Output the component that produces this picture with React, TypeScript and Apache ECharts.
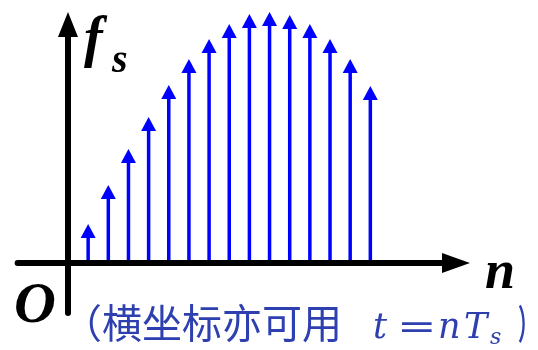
import React, { useEffect, useRef } from "react";
import * as echarts from "echarts";

const nValues = [1, 2, 3, 4, 5, 6, 7, 8, 9, 10, 11, 12, 13, 14, 15];
const fsValues = [39, 78, 114, 146, 178, 204, 224, 239, 249, 251, 248, 239, 224, 204, 177];
const yLabel = "f";
const yLabelSub = "s";
const xLabel = "n";
const originLabel = "O";
const noteCn = "（横坐标亦可用";
const noteMathT = "t";
const noteMathEq = "=";
const noteMathN = "n";
const noteMathTs = "T";
const noteMathSub = "s";
const noteClose = "）";

export default function App() {
  const ref = useRef<HTMLDivElement>(null);
  useEffect(() => {
    if (!ref.current) return;
    const chart = echarts.init(ref.current, null, { renderer: "svg" });
    const serif = "'Liberation Serif', 'Times New Roman', serif";
    const mathSerif = "'DejaVu Serif', serif";
    const cjk = "'Noto Sans CJK SC', sans-serif";
    const noteColor = "#2e40b0";
    const data = nValues.map((n, i) => [n, fsValues[i]]);
    chart.setOption({
      animation: false,
      grid: { left: 17.6, right: 82, top: 24.5, bottom: 37, outerBoundsMode: "none", containLabel: false },
      xAxis: {
        type: "value",
        min: -2.5,
        max: 19.25,
        axisLine: { onZero: true, lineStyle: { color: "#000", width: 6 }, symbol: ["none", "triangle"], symbolSize: [20, 28] },
        axisTick: { show: false },
        axisLabel: { show: false },
        splitLine: { show: false },
      },
      yAxis: {
        type: "value",
        min: -50,
        max: 238.5,
        axisLine: { show: true, onZero: true, lineStyle: { color: "#000", width: 6 }, symbol: ["none", "triangle"], symbolSize: [20, 25] },
        axisTick: { show: false },
        axisLabel: { show: false },
        splitLine: { show: false },
      },
      series: [
        {
          type: "custom",
          data,
          clip: false,
          renderItem: (params: any, api: any) => {
            const n = api.value(0);
            const v = api.value(1);
            const base = api.coord([n, 0]);
            const tip = api.coord([n, v]);
            const headL = 14;
            const headW = 15;
            return {
              type: "group",
              children: [
                {
                  type: "line",
                  shape: { x1: base[0], y1: base[1] - 3, x2: tip[0], y2: tip[1] + headL - 1 },
                  style: { stroke: "#0000ff", lineWidth: 3.5 },
                },
                {
                  type: "polygon",
                  shape: { points: [[tip[0], tip[1]], [tip[0] - headW / 2, tip[1] + headL], [tip[0] + headW / 2, tip[1] + headL]] },
                  style: { fill: "#0000ff" },
                },
              ],
            };
          },
        },
      ],
      graphic: [
        { type: "text", x: 84, y: 37, style: { text: yLabel, font: `italic bold 56px ${serif}`, fill: "#000", verticalAlign: "middle" } },
        { type: "text", x: 112, y: 58, style: { text: yLabelSub, font: `italic bold 40px ${serif}`, fill: "#000", verticalAlign: "middle" } },
        { type: "text", x: 14, y: 302, style: { text: originLabel, font: `italic bold 58px ${serif}`, fill: "#000", verticalAlign: "middle" } },
        { type: "text", x: 485, y: 270, style: { text: xLabel, font: `italic bold 54px ${serif}`, fill: "#000", verticalAlign: "middle" } },
        { type: "text", x: 62, y: 321, style: { text: noteCn, font: `40px ${cjk}`, fill: noteColor, verticalAlign: "middle" } },
        { type: "text", x: 373, y: 326, style: { text: noteMathT, font: `italic 35px ${mathSerif}`, fill: noteColor, verticalAlign: "middle" } },
        { type: "text", x: 397, y: 326, scaleX: 1.35, style: { text: noteMathEq, font: `35px ${mathSerif}`, fill: noteColor, verticalAlign: "middle" } },
        { type: "text", x: 438, y: 326, style: { text: noteMathN, font: `italic 35px ${mathSerif}`, fill: noteColor, verticalAlign: "middle" } },
        { type: "text", x: 464, y: 326, style: { text: noteMathTs, font: `italic 35px ${mathSerif}`, fill: noteColor, verticalAlign: "middle" } },
        { type: "text", x: 490, y: 336.5, style: { text: noteMathSub, font: `italic 22px ${mathSerif}`, fill: noteColor, verticalAlign: "middle" } },
        { type: "text", x: 518, y: 321, scaleX: 0.5, style: { text: noteClose, font: `bold 40px ${cjk}`, fill: noteColor, verticalAlign: "middle" } },
      ],
    });
    return () => chart.dispose();
  }, []);
  return <div ref={ref} style={{ position: "fixed", left: 0, top: 0, width: 538, height: 350 }} />;
}
